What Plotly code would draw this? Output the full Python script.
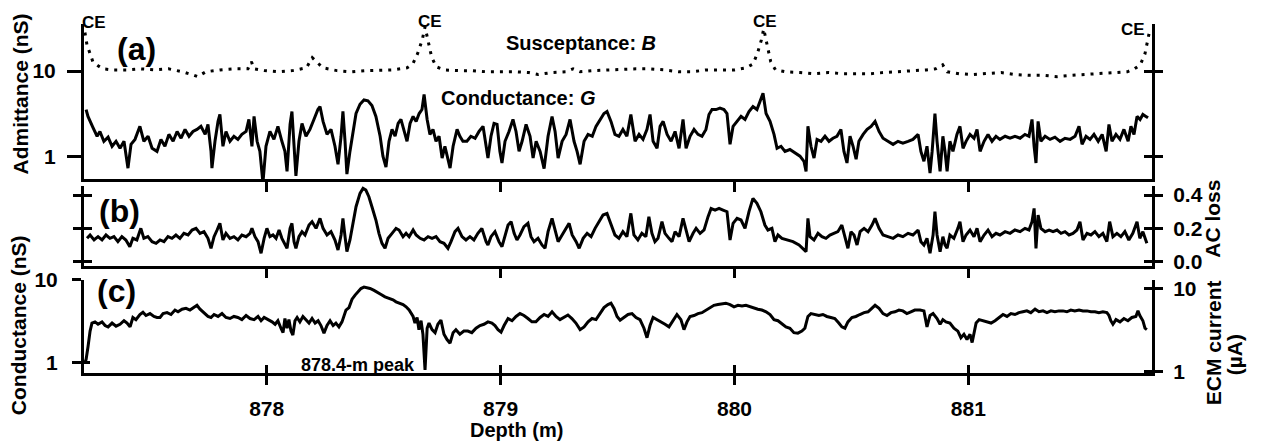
import plotly.graph_objects as go

# ---------------- data ----------------
# Panel (a): conductance G (nS), solid line
depth_g = [877.228, 877.236, 877.257, 877.275, 877.287, 877.304, 877.322, 877.339, 877.356, 877.373,
           877.390, 877.407, 877.420, 877.437, 877.458, 877.475, 877.493, 877.510, 877.531, 877.548,
           877.565, 877.582, 877.600, 877.617, 877.634, 877.651, 877.668, 877.685, 877.702, 877.719,
           877.737, 877.749, 877.762, 877.766, 877.779, 877.792, 877.800, 877.813, 877.826, 877.843,
           877.860, 877.877, 877.894, 877.912, 877.924, 877.937, 877.946, 877.959, 877.971, 877.984,
           877.997, 878.014, 878.031, 878.048, 878.065, 878.078, 878.087, 878.100, 878.108, 878.117,
           878.125, 878.138, 878.151, 878.168, 878.185, 878.202, 878.219, 878.228, 878.241, 878.258,
           878.275, 878.292, 878.305, 878.318, 878.326, 878.335, 878.343, 878.356, 878.369, 878.382,
           878.399, 878.416, 878.433, 878.450, 878.467, 878.485, 878.497, 878.510, 878.523, 878.536,
           878.549, 878.562, 878.574, 878.587, 878.600, 878.613, 878.626, 878.639, 878.652, 878.664,
           878.673, 878.686, 878.698, 878.711, 878.724, 878.737, 878.750, 878.762, 878.775, 878.784,
           878.797, 878.814, 878.826, 878.839, 878.856, 878.873, 878.891, 878.908, 878.925, 878.938,
           878.946, 878.959, 878.972, 878.985, 878.997, 879.006, 879.019, 879.036, 879.053, 879.066,
           879.079, 879.092, 879.109, 879.126, 879.139, 879.152, 879.169, 879.186, 879.203, 879.220,
           879.233, 879.246, 879.263, 879.280, 879.297, 879.314, 879.327, 879.340, 879.357, 879.374,
           879.392, 879.408, 879.425, 879.442, 879.455, 879.472, 879.489, 879.506, 879.523, 879.540,
           879.557, 879.575, 879.592, 879.609, 879.626, 879.639, 879.652, 879.669, 879.682, 879.695,
           879.712, 879.729, 879.746, 879.763, 879.780, 879.793, 879.810, 879.827, 879.844, 879.861,
           879.878, 879.891, 879.904, 879.921, 879.938, 879.955, 879.968, 879.981, 879.994, 880.011,
           880.028, 880.045, 880.062, 880.079, 880.096, 880.109, 880.122, 880.135, 880.152, 880.169,
           880.182, 880.199, 880.216, 880.237, 880.259, 880.280, 880.297, 880.306, 880.314, 880.327,
           880.340, 880.353, 880.370, 880.387, 880.404, 880.421, 880.438, 880.455, 880.468, 880.481,
           880.494, 880.507, 880.520, 880.532, 880.550, 880.567, 880.584, 880.601, 880.618, 880.635,
           880.656, 880.678, 880.699, 880.720, 880.742, 880.763, 880.785, 880.797, 880.810, 880.823,
           880.836, 880.845, 880.857, 880.866, 880.879, 880.891, 880.900, 880.909, 880.921, 880.934,
           880.951, 880.964, 880.977, 880.990, 881.007, 881.024, 881.037, 881.050, 881.067, 881.084,
           881.101, 881.118, 881.135, 881.157, 881.178, 881.199, 881.221, 881.242, 881.259, 881.272,
           881.281, 881.289, 881.298, 881.310, 881.328, 881.349, 881.370, 881.392, 881.413, 881.435,
           881.456, 881.473, 881.486, 881.503, 881.520, 881.537, 881.555, 881.572, 881.589, 881.601,
           881.614, 881.631, 881.648, 881.665, 881.683, 881.695, 881.708, 881.721, 881.734, 881.746,
           881.759, 881.768]
cond_g = [3.56, 2.96, 2.21, 1.74, 1.98, 1.52, 1.70, 1.33, 1.52, 1.26,
          1.52, 0.74, 1.40, 1.60, 2.27, 1.52, 1.74, 1.26, 1.16, 1.60,
          1.33, 1.83, 1.52, 1.98, 1.65, 2.09, 1.74, 1.98, 2.09, 2.27,
          1.83, 2.39, 1.16, 0.74, 1.52, 2.59, 3.12, 1.33, 1.98, 1.52,
          1.74, 1.60, 1.83, 1.98, 2.73, 1.33, 2.96, 1.52, 1.16, 0.50,
          1.33, 1.98, 1.60, 2.27, 1.52, 1.16, 0.68, 2.39, 3.38, 1.16,
          0.60, 1.52, 2.45, 1.74, 2.09, 2.73, 3.56, 3.86, 2.59, 1.83,
          2.09, 1.33, 0.82, 1.74, 3.38, 1.52, 0.63, 1.16, 1.98, 3.20,
          4.10, 4.60, 4.50, 3.97, 2.96, 1.74, 1.02, 0.76, 1.52, 2.09,
          1.74, 2.45, 2.73, 1.98, 1.52, 2.45, 2.96, 2.59, 3.20, 3.56,
          5.32, 2.73, 1.83, 2.09, 1.52, 1.74, 0.97, 1.33, 0.89, 0.74,
          1.33, 2.09, 1.74, 1.52, 1.52, 1.74, 1.65, 1.98, 2.27, 1.33,
          0.97, 1.74, 2.45, 2.39, 1.16, 0.85, 1.52, 1.98, 2.73, 1.98,
          1.16, 1.52, 2.39, 1.74, 0.97, 1.52, 1.16, 0.73, 1.74, 2.96,
          1.98, 0.97, 1.52, 1.83, 2.73, 1.52, 1.16, 0.82, 1.52, 1.83,
          1.74, 2.27, 2.73, 3.20, 3.38, 2.59, 1.83, 1.74, 2.09, 1.74,
          3.12, 1.52, 1.83, 1.60, 2.09, 3.12, 1.52, 1.26, 2.27, 2.59,
          1.83, 1.52, 1.98, 1.26, 2.73, 1.26, 1.74, 2.09, 1.83, 1.74,
          2.09, 3.12, 3.56, 3.56, 3.70, 3.56, 3.20, 1.40, 2.27, 2.59,
          2.96, 2.73, 3.38, 3.86, 3.56, 4.42, 5.50, 3.20, 2.59, 1.83,
          1.26, 1.33, 1.16, 1.22, 1.10, 1.02, 0.89, 0.68, 2.27, 1.33,
          0.97, 1.60, 1.52, 1.74, 1.52, 1.65, 1.74, 2.09, 1.16, 0.85,
          1.74, 1.33, 0.94, 1.52, 1.83, 2.09, 2.27, 2.59, 1.98, 1.65,
          1.52, 1.40, 1.52, 1.45, 1.52, 1.60, 1.83, 1.16, 0.89, 1.33,
          0.65, 1.16, 3.20, 1.52, 0.68, 1.74, 1.16, 0.68, 1.52, 1.16,
          1.83, 2.27, 1.26, 1.52, 1.83, 1.65, 2.09, 1.16, 1.52, 1.83,
          1.52, 1.74, 1.60, 1.74, 1.65, 1.74, 1.65, 1.83, 1.74, 2.73,
          1.33, 0.85, 2.59, 1.52, 1.74, 1.60, 1.70, 1.52, 1.65, 1.60,
          1.74, 2.27, 1.40, 1.74, 1.60, 1.83, 1.52, 1.83, 1.16, 2.39,
          1.52, 1.83, 1.60, 2.09, 1.52, 2.27, 1.83, 2.96, 2.73, 3.12,
          2.96, 2.85]

# Panel (a): susceptance B (nS), dotted line
depth_b = [877.223, 877.232, 877.245, 877.257, 877.279, 877.300, 877.343, 877.400, 877.460, 877.520,
           877.580, 877.640, 877.690, 877.705, 877.740, 877.800, 877.860, 877.920, 877.935, 877.945,
           877.990, 878.050, 878.110, 878.170, 878.195, 878.215, 878.240, 878.300, 878.360, 878.420,
           878.480, 878.540, 878.600, 878.625, 878.645, 878.665, 878.677, 878.690, 878.705, 878.725,
           878.760, 878.820, 878.880, 878.940, 879.000, 879.060, 879.120, 879.160, 879.220, 879.280,
           879.310, 879.340, 879.400, 879.460, 879.520, 879.580, 879.640, 879.700, 879.760, 879.820,
           879.880, 879.940, 880.000, 880.050, 880.080, 880.100, 880.115, 880.125, 880.140, 880.155,
           880.175, 880.220, 880.280, 880.340, 880.400, 880.460, 880.520, 880.580, 880.640, 880.700,
           880.760, 880.820, 880.860, 880.890, 880.910, 880.960, 881.020, 881.080, 881.140, 881.200,
           881.260, 881.320, 881.380, 881.440, 881.500, 881.560, 881.620, 881.680, 881.710, 881.735,
           881.755, 881.765, 881.775]
susc_b = [28.0, 20.0, 15.9, 12.8, 11.5, 10.6, 10.3, 10.3, 10.6, 10.3,
          10.6, 9.8, 8.9, 8.6, 9.8, 10.3, 10.6, 10.6, 12.8, 10.6,
          10.1, 9.8, 10.1, 10.9, 14.3, 12.8, 10.9, 10.1, 9.8, 10.1,
          10.3, 10.3, 10.9, 12.1, 15.9, 23.0, 32.6, 21.5, 14.6, 11.2,
          10.3, 10.1, 10.1, 9.8, 9.8, 9.8, 9.6, 9.1, 9.6, 9.8,
          10.6, 9.8, 10.1, 10.3, 10.6, 10.6, 10.6, 10.3, 9.8, 9.8,
          10.3, 10.3, 10.3, 10.9, 12.1, 16.7, 23.0, 30.9, 19.0, 12.8,
          10.3, 9.8, 9.6, 9.3, 9.6, 9.3, 9.3, 9.3, 9.6, 9.8,
          10.1, 10.3, 10.6, 11.8, 9.8, 9.3, 9.1, 9.3, 9.6, 9.1,
          8.9, 8.9, 8.6, 8.9, 9.1, 9.3, 9.6, 9.8, 10.6, 11.8,
          15.9, 21.5, 29.5]

# Panel (b): AC loss (nS)
depth_ac = [877.232, 877.245, 877.262, 877.279, 877.296, 877.313, 877.330, 877.347, 877.364, 877.381,
            877.398, 877.415, 877.428, 877.445, 877.462, 877.475, 877.492, 877.510, 877.527, 877.544,
            877.561, 877.578, 877.595, 877.612, 877.629, 877.646, 877.664, 877.681, 877.698, 877.715,
            877.732, 877.749, 877.762, 877.775, 877.788, 877.800, 877.813, 877.826, 877.843, 877.860,
            877.877, 877.894, 877.912, 877.929, 877.937, 877.950, 877.963, 877.976, 877.989, 878.001,
            878.014, 878.027, 878.040, 878.053, 878.065, 878.078, 878.087, 878.100, 878.108, 878.117,
            878.125, 878.138, 878.151, 878.164, 878.181, 878.194, 878.211, 878.228, 878.241, 878.258,
            878.275, 878.292, 878.305, 878.318, 878.326, 878.335, 878.343, 878.356, 878.369, 878.382,
            878.399, 878.412, 878.424, 878.437, 878.450, 878.467, 878.480, 878.493, 878.506, 878.519,
            878.536, 878.553, 878.566, 878.583, 878.596, 878.609, 878.626, 878.639, 878.656, 878.673,
            878.690, 878.707, 878.724, 878.741, 878.758, 878.775, 878.788, 878.805, 878.818, 878.835,
            878.852, 878.869, 878.886, 878.903, 878.920, 878.938, 878.946, 878.959, 878.976, 878.993,
            879.006, 879.019, 879.032, 879.045, 879.058, 879.070, 879.083, 879.100, 879.117, 879.130,
            879.143, 879.160, 879.177, 879.190, 879.203, 879.220, 879.233, 879.246, 879.263, 879.280,
            879.293, 879.306, 879.323, 879.336, 879.353, 879.370, 879.387, 879.404, 879.421, 879.438,
            879.455, 879.472, 879.489, 879.506, 879.523, 879.540, 879.557, 879.570, 879.587, 879.604,
            879.621, 879.634, 879.647, 879.660, 879.673, 879.690, 879.703, 879.720, 879.733, 879.746,
            879.763, 879.780, 879.793, 879.806, 879.823, 879.836, 879.853, 879.870, 879.887, 879.900,
            879.917, 879.934, 879.951, 879.968, 879.981, 879.994, 880.011, 880.028, 880.045, 880.062,
            880.079, 880.096, 880.113, 880.130, 880.143, 880.160, 880.173, 880.186, 880.203, 880.224,
            880.250, 880.276, 880.293, 880.306, 880.314, 880.323, 880.340, 880.357, 880.374, 880.391,
            880.408, 880.425, 880.442, 880.459, 880.472, 880.485, 880.498, 880.511, 880.524, 880.537,
            880.554, 880.571, 880.588, 880.601, 880.618, 880.635, 880.656, 880.678, 880.699, 880.720,
            880.742, 880.763, 880.785, 880.797, 880.810, 880.823, 880.836, 880.849, 880.857, 880.866,
            880.879, 880.891, 880.900, 880.909, 880.921, 880.938, 880.955, 880.964, 880.977, 880.990,
            881.007, 881.024, 881.037, 881.050, 881.067, 881.084, 881.101, 881.118, 881.135, 881.157,
            881.178, 881.199, 881.221, 881.242, 881.259, 881.272, 881.281, 881.289, 881.298, 881.310,
            881.328, 881.345, 881.362, 881.379, 881.396, 881.413, 881.430, 881.447, 881.464, 881.477,
            881.490, 881.507, 881.524, 881.541, 881.558, 881.575, 881.592, 881.604, 881.618, 881.635,
            881.652, 881.669, 881.686, 881.703, 881.721, 881.733, 881.746, 881.763]
ac_loss = [0.14, 0.16, 0.13, 0.15, 0.13, 0.16, 0.14, 0.15, 0.12, 0.15,
           0.13, 0.09, 0.14, 0.13, 0.20, 0.14, 0.15, 0.12, 0.11, 0.13,
           0.12, 0.15, 0.14, 0.16, 0.14, 0.17, 0.16, 0.19, 0.20, 0.17,
           0.18, 0.14, 0.08, 0.15, 0.19, 0.23, 0.13, 0.17, 0.14, 0.15,
           0.13, 0.16, 0.15, 0.17, 0.20, 0.15, 0.12, 0.05, 0.14, 0.20,
           0.15, 0.16, 0.14, 0.19, 0.14, 0.10, 0.08, 0.20, 0.23, 0.12,
           0.08, 0.15, 0.18, 0.16, 0.22, 0.24, 0.20, 0.26, 0.20, 0.16,
           0.18, 0.13, 0.07, 0.16, 0.26, 0.15, 0.06, 0.13, 0.22, 0.33,
           0.41, 0.44, 0.43, 0.39, 0.33, 0.25, 0.17, 0.11, 0.08, 0.14,
           0.17, 0.20, 0.19, 0.15, 0.17, 0.15, 0.19, 0.16, 0.14, 0.13,
           0.15, 0.14, 0.15, 0.12, 0.11, 0.08, 0.12, 0.18, 0.20, 0.15,
           0.13, 0.15, 0.13, 0.17, 0.20, 0.12, 0.10, 0.15, 0.18, 0.12,
           0.09, 0.16, 0.22, 0.24, 0.17, 0.13, 0.16, 0.21, 0.23, 0.15,
           0.12, 0.14, 0.10, 0.08, 0.18, 0.26, 0.18, 0.12, 0.16, 0.20,
           0.23, 0.16, 0.12, 0.08, 0.14, 0.17, 0.15, 0.20, 0.24, 0.28,
           0.29, 0.22, 0.16, 0.14, 0.18, 0.15, 0.29, 0.16, 0.13, 0.17,
           0.15, 0.27, 0.17, 0.12, 0.14, 0.24, 0.17, 0.14, 0.12, 0.18,
           0.15, 0.26, 0.18, 0.12, 0.17, 0.20, 0.17, 0.19, 0.27, 0.32,
           0.31, 0.32, 0.31, 0.30, 0.13, 0.23, 0.26, 0.25, 0.20, 0.30,
           0.38, 0.35, 0.30, 0.22, 0.19, 0.20, 0.12, 0.16, 0.14, 0.13,
           0.12, 0.10, 0.08, 0.06, 0.26, 0.15, 0.13, 0.17, 0.15, 0.14,
           0.16, 0.17, 0.18, 0.22, 0.14, 0.08, 0.18, 0.16, 0.10, 0.18,
           0.20, 0.18, 0.22, 0.26, 0.20, 0.16, 0.15, 0.14, 0.16, 0.15,
           0.17, 0.16, 0.19, 0.12, 0.10, 0.14, 0.05, 0.16, 0.30, 0.16,
           0.06, 0.15, 0.10, 0.08, 0.16, 0.14, 0.20, 0.24, 0.12, 0.16,
           0.19, 0.15, 0.20, 0.12, 0.16, 0.19, 0.15, 0.17, 0.16, 0.18,
           0.17, 0.19, 0.18, 0.20, 0.19, 0.24, 0.32, 0.08, 0.28, 0.20,
           0.18, 0.19, 0.18, 0.19, 0.17, 0.18, 0.16, 0.17, 0.19, 0.24,
           0.13, 0.17, 0.16, 0.18, 0.15, 0.17, 0.12, 0.24, 0.15, 0.17,
           0.15, 0.18, 0.13, 0.17, 0.24, 0.14, 0.18, 0.11]

# Panel (c): ECM conductance (nS)
depth_ecm = [877.223, 877.228, 877.236, 877.245, 877.253, 877.266, 877.279, 877.296, 877.309, 877.322,
             877.339, 877.356, 877.373, 877.390, 877.403, 877.416, 877.428, 877.441, 877.458, 877.471,
             877.484, 877.501, 877.518, 877.531, 877.544, 877.557, 877.574, 877.591, 877.608, 877.621,
             877.638, 877.655, 877.672, 877.689, 877.702, 877.715, 877.732, 877.749, 877.762, 877.775,
             877.792, 877.809, 877.826, 877.843, 877.860, 877.877, 877.894, 877.912, 877.929, 877.946,
             877.963, 877.976, 877.989, 878.006, 878.023, 878.036, 878.048, 878.061, 878.070, 878.078,
             878.087, 878.095, 878.104, 878.112, 878.121, 878.130, 878.142, 878.155, 878.168, 878.181,
             878.194, 878.207, 878.220, 878.232, 878.245, 878.258, 878.271, 878.284, 878.296, 878.309,
             878.322, 878.331, 878.339, 878.352, 878.365, 878.378, 878.390, 878.403, 878.416, 878.429,
             878.442, 878.459, 878.476, 878.489, 878.506, 878.523, 878.540, 878.553, 878.570, 878.583,
             878.596, 878.609, 878.626, 878.634, 878.643, 878.651, 878.660, 878.668, 878.677, 878.686,
             878.694, 878.707, 878.720, 878.732, 878.745, 878.758, 878.771, 878.784, 878.797, 878.809,
             878.826, 878.843, 878.860, 878.877, 878.895, 878.912, 878.929, 878.946, 878.963, 878.976,
             878.989, 879.002, 879.015, 879.032, 879.049, 879.066, 879.083, 879.100, 879.117, 879.134,
             879.151, 879.169, 879.186, 879.203, 879.220, 879.237, 879.254, 879.271, 879.288, 879.305,
             879.322, 879.340, 879.357, 879.374, 879.391, 879.408, 879.425, 879.442, 879.459, 879.472,
             879.485, 879.498, 879.511, 879.528, 879.545, 879.562, 879.579, 879.596, 879.613, 879.626,
             879.639, 879.652, 879.669, 879.686, 879.703, 879.720, 879.737, 879.754, 879.771, 879.784,
             879.797, 879.810, 879.827, 879.844, 879.861, 879.878, 879.895, 879.912, 879.929, 879.946,
             879.963, 879.981, 879.998, 880.015, 880.032, 880.049, 880.066, 880.083, 880.100, 880.117,
             880.135, 880.152, 880.169, 880.186, 880.203, 880.220, 880.237, 880.254, 880.271, 880.288,
             880.301, 880.314, 880.327, 880.344, 880.361, 880.378, 880.395, 880.412, 880.429, 880.446,
             880.459, 880.472, 880.485, 880.502, 880.519, 880.536, 880.554, 880.571, 880.588, 880.601,
             880.618, 880.635, 880.652, 880.669, 880.686, 880.703, 880.720, 880.737, 880.754, 880.771,
             880.793, 880.810, 880.823, 880.836, 880.849, 880.866, 880.879, 880.891, 880.904, 880.921,
             880.938, 880.955, 880.968, 880.981, 880.994, 881.007, 881.016, 881.024, 881.033, 881.046,
             881.063, 881.080, 881.097, 881.114, 881.131, 881.148, 881.165, 881.182, 881.199, 881.216,
             881.233, 881.250, 881.267, 881.285, 881.302, 881.319, 881.336, 881.353, 881.370, 881.387,
             881.404, 881.421, 881.438, 881.455, 881.473, 881.490, 881.507, 881.524, 881.541, 881.558,
             881.575, 881.592, 881.601, 881.609, 881.618, 881.631, 881.648, 881.665, 881.682, 881.699,
             881.716, 881.725, 881.733, 881.746, 881.755, 881.763]
ecm_cond = [1.00, 1.10, 1.55, 2.40, 3.00, 3.10, 2.90, 3.10, 2.80, 2.70,
            3.00, 2.75, 2.90, 3.20, 3.00, 2.70, 3.50, 3.30, 3.80, 4.05,
            3.70, 3.90, 3.60, 3.50, 3.50, 3.90, 4.00, 3.80, 4.30, 4.10,
            4.40, 4.50, 4.30, 4.70, 4.90, 4.40, 4.00, 3.60, 3.50, 3.80,
            3.60, 3.90, 3.50, 3.40, 3.60, 3.50, 3.30, 3.70, 3.40, 3.30,
            3.60, 3.20, 3.50, 3.30, 3.10, 2.90, 3.20, 2.60, 2.30, 3.40,
            2.60, 3.30, 2.40, 2.15, 3.20, 3.50, 3.10, 3.60, 3.30, 3.00,
            3.40, 3.00, 3.20, 2.80, 2.27, 2.80, 3.20, 2.80, 3.00, 2.70,
            3.10, 3.80, 4.30, 4.60, 5.80, 6.50, 7.20, 7.80, 8.10, 8.00,
            7.80, 7.40, 7.00, 6.60, 6.20, 6.00, 5.70, 5.40, 5.20, 5.00,
            4.70, 4.30, 3.60, 3.00, 3.50, 2.50, 3.20, 2.20, 0.82, 2.60,
            3.00, 2.50, 2.30, 2.90, 3.25, 2.20, 1.90, 1.72, 2.30, 2.50,
            2.20, 2.40, 2.40, 2.30, 2.60, 2.80, 2.90, 3.10, 3.00, 2.80,
            2.50, 2.33, 2.80, 3.40, 3.20, 3.60, 3.90, 3.70, 3.40, 3.10,
            3.10, 3.50, 3.80, 3.60, 4.10, 3.60, 3.30, 3.50, 3.75, 3.40,
            3.00, 2.50, 2.70, 3.10, 3.40, 3.30, 3.90, 4.60, 5.00, 5.20,
            4.50, 3.60, 3.25, 3.50, 3.80, 3.90, 3.50, 3.30, 2.60, 2.00,
            2.80, 3.50, 3.30, 3.10, 2.90, 2.70, 3.20, 3.80, 3.30, 2.50,
            3.10, 3.60, 3.70, 3.90, 4.00, 4.30, 4.60, 4.90, 5.00, 5.10,
            5.20, 5.00, 4.70, 4.90, 4.80, 4.90, 4.70, 4.50, 4.40, 4.30,
            4.10, 3.80, 3.30, 3.20, 2.90, 2.70, 2.60, 2.30, 2.27, 2.40,
            2.60, 3.60, 3.90, 3.80, 3.70, 3.80, 3.60, 3.50, 3.40, 3.00,
            2.70, 2.60, 3.10, 3.50, 3.60, 3.80, 4.00, 4.10, 4.60, 4.90,
            4.50, 3.90, 3.70, 4.00, 4.10, 4.30, 4.20, 3.90, 4.10, 4.30,
            4.30, 4.20, 2.70, 3.70, 3.90, 3.40, 2.90, 3.30, 3.10, 3.00,
            2.60, 2.40, 2.00, 2.20, 1.90, 2.20, 1.75, 2.30, 3.00, 3.30,
            3.20, 3.10, 3.00, 3.20, 3.50, 3.80, 3.60, 3.90, 3.80, 4.00,
            4.10, 4.20, 4.00, 4.40, 4.10, 4.20, 4.00, 4.20, 4.10, 4.20,
            4.20, 4.10, 4.30, 4.20, 4.30, 4.20, 4.20, 4.10, 4.10, 4.00,
            4.10, 4.00, 3.70, 3.20, 2.90, 3.30, 3.10, 3.40, 3.20, 3.50,
            3.60, 4.20, 3.70, 3.20, 2.60, 2.50]

# axis ticks
depth_ticks = [878, 879, 880, 881]
depth_tick_text = ["878", "879", "880", "881"]
adm_ticks = [1, 10]
adm_tick_text = ["1", "10"]
ac_ticks = [0.0, 0.2, 0.4]
ac_tick_text = ["0.0", "0.2", "0.4"]
ecm_ticks = [1, 10]
ecm_tick_text = ["1", "10"]

# ---------------- figure ----------------
FONT = "Liberation Sans, Arial, Helvetica, sans-serif"
BLACK = "#000000"
X_RANGE = [877.219, 881.785]
TICK_FONT = dict(family=FONT, size=21, color=BLACK, weight="bold")

fig = go.Figure()
line_style = dict(color=BLACK, width=3)
fig.add_trace(go.Scatter(x=depth_g, y=cond_g, mode="lines", line=line_style,
                         xaxis="x", yaxis="y", showlegend=False, hoverinfo="skip"))
fig.add_trace(go.Scatter(x=depth_b, y=susc_b, mode="lines",
                         line=dict(color=BLACK, width=3, dash="3px,6px"),
                         xaxis="x", yaxis="y", showlegend=False, hoverinfo="skip"))
fig.add_trace(go.Scatter(x=depth_ac, y=ac_loss, mode="lines", line=line_style,
                         xaxis="x2", yaxis="y3", showlegend=False, hoverinfo="skip"))
fig.add_trace(go.Scatter(x=depth_ecm, y=ecm_cond, mode="lines", line=line_style,
                         xaxis="x3", yaxis="y5", showlegend=False, hoverinfo="skip"))

# empty helper traces so the extra (tick-only) axes get drawn
for xa, ya in [("x", "y2"), ("x", "y7"), ("x2", "y4"), ("x2", "y8"), ("x2", "y9"),
               ("x3", "y6"), ("x3", "y10"), ("x3", "y11"), ("x4", "y5")]:
    fig.add_trace(go.Scatter(x=[], y=[], mode="lines", xaxis=xa, yaxis=ya,
                             showlegend=False, hoverinfo="skip"))


def xax(anchor, ticks, ticklen, labels=False, overlay=None, line=True):
    d = dict(anchor=anchor, range=X_RANGE, domain=[0, 1], showgrid=False, zeroline=False,
             showline=line, linecolor=BLACK, linewidth=3, ticks=ticks, ticklen=ticklen,
             tickwidth=3, tickcolor=BLACK, tickvals=depth_ticks, ticktext=depth_tick_text,
             showticklabels=labels, tickfont=TICK_FONT, ticklabelstandoff=6)
    if overlay:
        d["overlaying"] = overlay
    return d


def yax(anchor, domain, rng, tickvals, ticktext, side, ticks, ticklen, labels=False,
        overlay=None, log=False, line=True, standoff=6):
    d = dict(anchor=anchor, range=rng, showgrid=False, zeroline=False, side=side,
             showline=line, linecolor=BLACK, linewidth=3, ticks=ticks, ticklen=ticklen,
             tickwidth=3, tickcolor=BLACK, tickvals=tickvals, ticktext=ticktext,
             showticklabels=labels, tickfont=TICK_FONT, ticklabelstandoff=standoff)
    if log:
        d["type"] = "log"
    if overlay:
        d["overlaying"] = overlay
    else:
        d["domain"] = domain
    return d


dom_a = [0.5556, 1.0]
dom_b = [0.3077, 0.5356]
dom_c = [0.0, 0.2678]
rng_a = [-0.258, 1.547]
rng_b = [-0.024, 0.454]
rng_c = [-0.123, 1.0]
rng_c_right = [-0.015, 1.104]

fig.update_layout(
    width=1268, height=444,
    margin=dict(l=84, r=116, t=22, b=71, pad=0),
    paper_bgcolor="white", plot_bgcolor="white",
    font=dict(family=FONT, color=BLACK, size=20, weight="bold"),
    showlegend=False,
    xaxis=xax("y", "outside", 10),
    xaxis2=xax("y3", "outside", 9),
    xaxis3=xax("y5", "outside", 9, labels=True),
    xaxis4=xax("y5", "inside", 8, overlay="x3", line=False),
    # panel (a)
    yaxis=yax("x", dom_a, rng_a, adm_ticks, adm_tick_text, "left", "outside", 14,
              labels=True, log=True, standoff=7),
    yaxis2=yax("x", dom_a, rng_a, adm_ticks, adm_tick_text, "right", "outside", 8,
               overlay="y", log=True),
    yaxis7=yax("x", dom_a, rng_a, adm_ticks, adm_tick_text, "right", "inside", 8,
               overlay="y", log=True, line=False),
    # panel (b)
    yaxis3=yax("x2", dom_b, rng_b, ac_ticks, ac_tick_text, "left", "outside", 8),
    yaxis4=yax("x2", dom_b, rng_b, ac_ticks, ac_tick_text, "right", "outside", 8,
               labels=True, overlay="y3", standoff=6),
    yaxis8=yax("x2", dom_b, rng_b, ac_ticks, ac_tick_text, "left", "inside", 8,
               overlay="y3", line=False),
    yaxis9=yax("x2", dom_b, rng_b, ac_ticks, ac_tick_text, "right", "inside", 8,
               overlay="y3", line=False),
    # panel (c)
    yaxis5=yax("x3", dom_c, rng_c, ecm_ticks, ecm_tick_text, "left", "outside", 9,
               labels=True, log=True, standoff=10),
    yaxis6=yax("x3", dom_c, rng_c_right, ecm_ticks, ecm_tick_text, "right", "outside", 8,
               labels=True, overlay="y5", log=True, standoff=6),
    yaxis10=yax("x3", dom_c, rng_c, ecm_ticks, ecm_tick_text, "left", "inside", 6,
                overlay="y5", log=True, line=False),
    yaxis11=yax("x3", dom_c, rng_c_right, ecm_ticks, ecm_tick_text, "right", "inside", 8,
                overlay="y5", log=True, line=False),
)


def note(text, x, y, size, angle=0):
    fig.add_annotation(text=text, x=x, y=y, xref="paper", yref="paper", showarrow=False,
                       xanchor="center", yanchor="middle", textangle=angle,
                       font=dict(family=FONT, size=size, color=BLACK, weight="bold"))


# CE labels
note("CE", 0.0094, 1.003, 17)
note("CE", 0.324, 1.006, 17)
note("CE", 0.6376, 1.006, 17)
note("CE", 0.9822, 0.983, 17)
# panel letters
note("(a)", 0.0487, 0.929, 32)
note("(b)", 0.0328, 0.464, 32)
note("(c)", 0.030, 0.234, 32)
# series labels
note("Susceptance: <i>B</i>", 0.4654, 0.946, 20)
note("Conductance: <i>G</i>", 0.4064, 0.789, 20)
note("878.4-m peak", 0.2566, 0.023, 18)
# axis titles
note("Admittance (nS)", -0.0599, 0.798, 21, -90)
note("Conductance (nS)", -0.0618, 0.137, 21, -90)
note("AC loss", 1.0571, 0.442, 21, -90)
note("ECM current", 1.0571, 0.088, 21, -90)
note("(µA)", 1.0768, 0.051, 21, -90)
note("Depth (m)", 0.4045, -0.1624, 20)

fig.write_html("out.html",
               config={"displayModeBar": False},
               post_script="document.body.style.margin='0';document.body.style.padding='0';")
